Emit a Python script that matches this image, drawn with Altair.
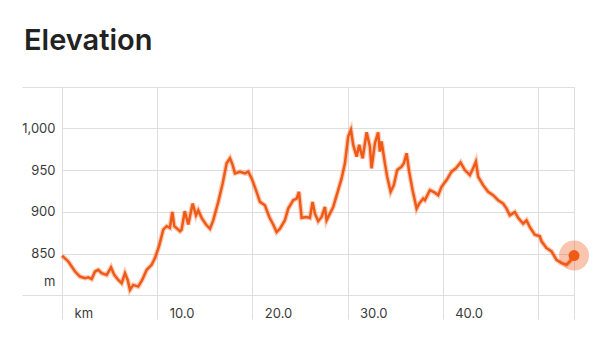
import altair as alt
import pandas as pd

km = [0.0, 0.66, 1.37, 1.89, 2.42, 2.76, 3.12, 3.47, 3.81, 4.17, 4.70, 5.15, 5.49, 5.91,
      6.27, 6.62, 6.90, 7.14, 7.49, 8.01, 8.43, 8.90, 9.42, 9.77, 10.19, 10.64, 11.00,
      11.34, 11.59, 11.80, 12.40, 12.57, 12.90, 13.27, 13.73, 14.08, 14.32, 14.67, 15.13,
      15.55, 15.89, 16.42, 16.88, 17.30, 17.65, 17.93, 18.17, 18.70, 19.22, 19.57, 19.93,
      20.38, 20.80, 21.32, 21.78, 22.19, 22.55, 22.90, 23.42, 23.77, 24.30, 24.65, 24.90,
      25.18, 25.70, 26.05, 26.33, 26.58, 26.92, 27.28, 27.63, 27.80, 28.15, 28.50, 29.02,
      29.38, 29.73, 30.07, 30.36, 30.60, 30.96, 31.23, 31.59, 32.01, 32.35, 32.53, 32.88,
      33.22, 33.40, 33.58, 33.93, 34.17, 34.53, 34.87, 35.22, 35.68, 35.92, 36.21, 36.48,
      36.84, 37.26, 37.53, 37.95, 38.13, 38.48, 38.66, 39.18, 39.53, 39.88, 40.41, 40.93,
      41.39, 41.88, 42.33, 42.86, 43.20, 43.49, 43.73, 44.25, 44.78, 45.30, 45.83, 46.36,
      46.71, 47.06, 47.58, 47.93, 48.46, 48.81, 49.16, 49.68, 50.21, 50.39, 50.91, 51.44,
      51.96, 52.49, 53.01, 53.36, 53.80]
elev = [848, 841, 829, 823, 821, 822, 820, 829, 831, 827, 825, 834, 825, 819,
        815, 827, 819, 807, 813, 811, 819, 831, 837, 845, 859, 879, 883,
        881, 900, 883, 877, 879, 901, 885, 910, 896, 902, 893, 885,
        880, 890, 912, 934, 958, 964, 956, 946, 948, 946, 948, 940,
        926, 912, 908, 894, 885, 876, 880, 890, 904, 914, 916, 924,
        893, 894, 893, 912, 898, 889, 894, 906, 890, 898, 906, 926,
        940, 958, 990, 998, 980, 966, 980, 964, 995, 978, 952, 982,
        995, 972, 984, 958, 942, 924, 932, 950, 954, 958, 970, 948,
        926, 904, 910, 916, 914, 922, 926, 923, 920, 930, 938, 948,
        952, 959, 950, 944, 952, 960, 942, 932, 924, 920, 914, 910,
        904, 896, 900, 893, 886, 890, 882, 873, 871, 865, 857, 853,
        843, 839, 837, 841, 848]

x_ticks = [0, 10, 20, 30, 40, 50, 53.8]
y_ticks = [801, 817, 850, 900, 950, 1000, 1049]
y_domain = [801, 1049]
x_domain = [0, 53.8]

df = pd.DataFrame({"km": km, "elev": elev})
end_df = df.tail(1)

ORANGE = "#EF5A16"
GRID = "#dedede"
FONT = "Inter"

x_axis = alt.Axis(
    values=x_ticks, title=None, domain=False, grid=True,
    gridColor=GRID, ticks=True, tickSize=24, tickColor=GRID,
    labelExpr="datum.value == 0 ? 'km' : (datum.value < 45 ? format(datum.value, '.1f') : '')",
    labelAlign="left", labelBaseline="middle", labelOffset=12, labelPadding=-6,
    labelFlush=False, labelOverlap=False, labelFont=FONT, labelFontSize=13,
    labelColor="#3a3a3a",
)
y_axis = alt.Axis(
    values=y_ticks, title=None, domain=False, grid=True,
    gridColor={"condition": {"test": "datum.value == 817", "value": "transparent"}, "value": GRID},
    ticks=True, tickSize=40,
    tickColor={"condition": {"test": "datum.value == 801 || datum.value == 1049", "value": GRID},
               "value": "transparent"},
    labelExpr="datum.value == 817 ? 'm' : ((datum.value == 801 || datum.value == 1049) ? '' : format(datum.value, ','))",
    labelPadding=-33, labelFont=FONT, labelFontSize=13, labelColor="#3a3a3a",
    labelOverlap=False, labelFlush=False, labelBound=False,
)

x_enc = alt.X("km:Q", scale=alt.Scale(domain=x_domain, nice=False, zero=False), axis=x_axis)
y_enc = alt.Y("elev:Q", scale=alt.Scale(domain=y_domain, nice=False, zero=False), axis=y_axis)

base = alt.Chart(df)
glow = base.mark_line(color=ORANGE, strokeWidth=5, opacity=0.3).encode(x=x_enc, y=y_enc)
line = base.mark_line(color=ORANGE, strokeWidth=2.5).encode(x=x_enc, y=y_enc)
halo = alt.Chart(end_df).mark_circle(color=ORANGE, opacity=0.35, size=900).encode(x=x_enc, y=y_enc)
dot = alt.Chart(end_df).mark_circle(color=ORANGE, opacity=1, size=120).encode(x=x_enc, y=y_enc)

chart = (
    alt.layer(glow, line, halo, dot)
    .properties(
        width=512, height=208,
        title=alt.Title("Elevation", anchor="start", frame="group", dx=-38, dy=34, offset=36,
                        baseline="alphabetic", font=FONT, fontSize=29, fontWeight=600,
                        color="#222"),
        autosize=alt.AutoSizeParams(type="none"),
        padding={"left": 62, "top": 87, "right": 26, "bottom": 57},
    )
    .configure_view(stroke=None)
    .configure_axis(labelOverlap=False)
    .configure(background="white")
)

chart.save("out.html", embed_options={"renderer": "svg", "actions": False})
